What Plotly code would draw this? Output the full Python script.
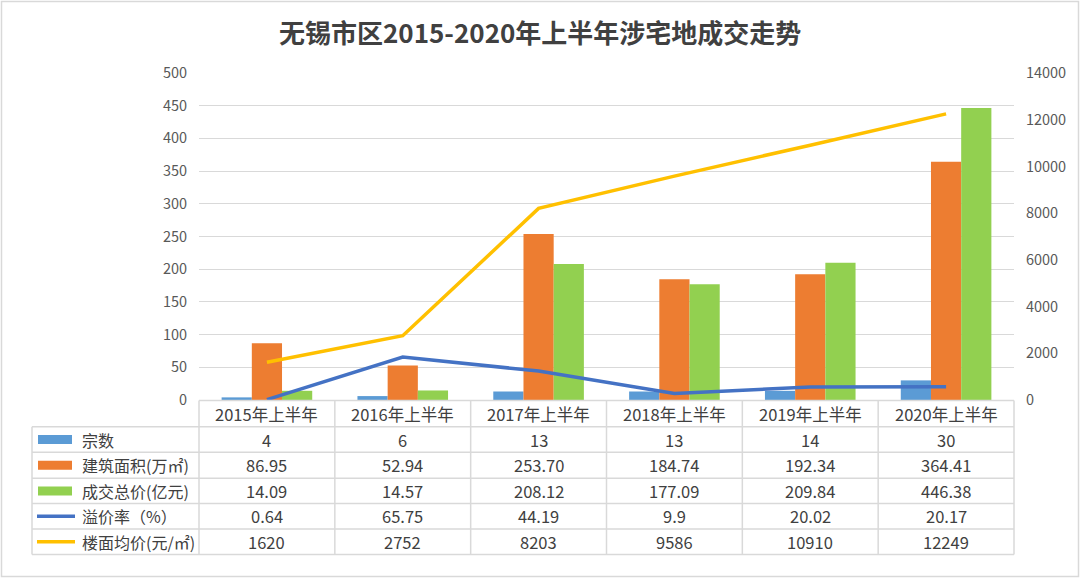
import plotly.graph_objects as go

categories = ["2015年上半年", "2016年上半年", "2017年上半年", "2018年上半年", "2019年上半年", "2020年上半年"]
count = [4, 6, 13, 13, 14, 30]
area = [86.95, 52.94, 253.70, 184.74, 192.34, 364.41]
total = [14.09, 14.57, 208.12, 177.09, 209.84, 446.38]
premium = [0.64, 65.75, 44.19, 9.9, 20.02, 20.17]
floor_price = [1620, 2752, 8203, 9586, 10910, 12249]

series_names = ["宗数", "建筑面积(万㎡)", "成交总价(亿元)", "溢价率（%）", "楼面均价(元/㎡)"]
left_ticks = list(range(0, 501, 50))
right_ticks = list(range(0, 14001, 2000))

W, H = 1080, 578
C_BLUE, C_ORANGE, C_GREEN, C_LBLUE, C_YELLOW = "#5B9BD5", "#ED7D31", "#92D050", "#4472C4", "#FFC000"
GRID = "#D9D9D9"
TXT = "#404040"
FONT = "Noto Sans CJK SC"

def px(x):
    return x / W

def py(y):
    return 1 - y / H

X0, X1 = 199, 1014
Y_TOP, Y_BOT = 73, 400

fig = go.Figure()
fig.add_trace(go.Bar(x=categories, y=count, name=series_names[0], marker_color=C_BLUE))
fig.add_trace(go.Bar(x=categories, y=area, name=series_names[1], marker_color=C_ORANGE))
fig.add_trace(go.Bar(x=categories, y=total, name=series_names[2], marker_color=C_GREEN))
fig.add_trace(go.Scatter(x=categories, y=premium, name=series_names[3], mode="lines",
                         line=dict(color=C_LBLUE, width=3.5)))
fig.add_trace(go.Scatter(x=categories, y=floor_price, name=series_names[4], mode="lines",
                         line=dict(color=C_YELLOW, width=3.5), yaxis="y2"))

fig.update_layout(
    template="none",
    width=W, height=H,
    margin=dict(l=0, r=0, t=0, b=0, pad=0, autoexpand=False),
    paper_bgcolor="white", plot_bgcolor="white",
    showlegend=False,
    barmode="group", bargap=0.333, bargroupgap=0,
    font=dict(family=FONT, color=TXT),
    xaxis=dict(domain=[px(X0), px(X1)], showticklabels=False, showgrid=False, automargin=False,
               zeroline=False, showline=False, ticks="", range=[-0.5, 5.5]),
    yaxis=dict(domain=[py(Y_BOT), py(Y_TOP)], range=[0, 500], tickvals=left_ticks, automargin=False,
               showgrid=True, gridcolor=GRID, gridwidth=1, zeroline=False, showline=False,
               ticks="outside", ticklen=8, tickcolor="rgba(0,0,0,0)",
               tickfont=dict(family=FONT, size=14.5, color="#595959")),
    yaxis2=dict(overlaying="y", side="right", range=[0, 14000], tickvals=right_ticks,
                ticktext=[str(t) for t in right_ticks], automargin=False,
                showgrid=False, zeroline=False, showline=False, anchor="x",
                ticks="outside", ticklen=8, tickcolor="rgba(0,0,0,0)",
                tickfont=dict(family=FONT, size=14.5, color="#595959")),
)

shapes = []
annotations = []
shapes.append(dict(type="rect", xref="paper", yref="paper", x0=px(1.5), x1=px(W - 1.5),
                   y0=py(H - 1.5), y1=py(1.5), line=dict(color=GRID, width=1.5)))

annotations.append(dict(xref="paper", yref="paper", x=0.5, y=py(31), xanchor="center", yanchor="middle",
                        text="<b>无锡市区2015-2020年上半年涉宅地成交走势</b>", showarrow=False,
                        font=dict(family=FONT, size=26, color=TXT)))

row_y = [400.5, 426.7, 452.3, 478.3, 503.5, 529, 554.5]
LEG_X0 = 32
col_x = [X0 + i * (X1 - X0) / 6 for i in range(7)]
tc = dict(color=GRID, width=1.5)
shapes.append(dict(type="line", xref="paper", yref="paper", x0=px(X0), x1=px(X1), y0=py(row_y[0]), y1=py(row_y[0]), line=tc))
for y in row_y[1:]:
    shapes.append(dict(type="line", xref="paper", yref="paper", x0=px(LEG_X0), x1=px(X1), y0=py(y), y1=py(y), line=tc))
for x in col_x:
    shapes.append(dict(type="line", xref="paper", yref="paper", x0=px(x), x1=px(x), y0=py(row_y[0]), y1=py(row_y[-1]), line=tc))
shapes.append(dict(type="line", xref="paper", yref="paper", x0=px(LEG_X0), x1=px(LEG_X0), y0=py(row_y[1]), y1=py(row_y[-1]), line=tc))

for c in categories:
    annotations.append(dict(xref="x", yref="paper", x=c, y=py((row_y[0] + row_y[1]) / 2), showarrow=False,
                            text=c, xanchor="center", yanchor="middle", font=dict(family=FONT, size=16.5, color=TXT)))

rows = [
    [str(v) for v in count],
    [f"{v:.2f}" for v in area],
    [f"{v:.2f}" for v in total],
    [str(v) for v in premium],
    [str(v) for v in floor_price],
]
colors = [C_BLUE, C_ORANGE, C_GREEN, C_LBLUE, C_YELLOW]
for r, vals in enumerate(rows):
    yc = (row_y[r + 1] + row_y[r + 2]) / 2
    for c, v in zip(categories, vals):
        annotations.append(dict(xref="x", yref="paper", x=c, y=py(yc), showarrow=False, text=v,
                                xanchor="center", yanchor="middle", font=dict(family=FONT, size=16.5, color=TXT)))
    if r < 3:
        shapes.append(dict(type="rect", xref="paper", yref="paper", x0=px(38), x1=px(72),
                           y0=py(yc + 4.5), y1=py(yc - 4.5), fillcolor=colors[r], line=dict(width=0)))
    else:
        shapes.append(dict(type="line", xref="paper", yref="paper", x0=px(37), x1=px(75),
                           y0=py(yc), y1=py(yc), line=dict(color=colors[r], width=3.5)))
    annotations.append(dict(xref="paper", yref="paper", x=px(80), y=py(yc), showarrow=False,
                            text=series_names[r], xanchor="left", yanchor="middle",
                            font=dict(family=FONT, size=16, color=TXT)))

fig.update_layout(shapes=shapes, annotations=annotations)
fig.write_html("out.html", config={"displayModeBar": False},
               post_script="document.body.style.margin='0';document.body.style.overflow='hidden';")
